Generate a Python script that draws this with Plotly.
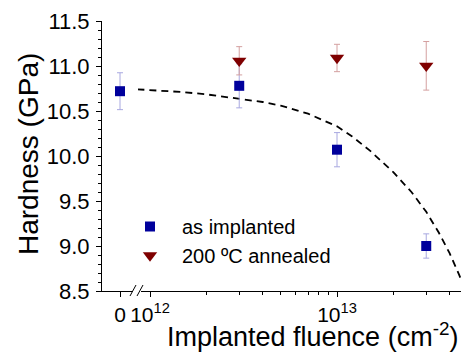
import plotly.graph_objects as go

# ---- data ----
FLUENCE = [3e12, 1e13, 3e13]            # cm^-2 (log segment)
H_IMPL_ZERO = 10.72                      # as implanted, fluence 0
H_IMPL_ZERO_ERR = 0.205
H_IMPL = [10.78, 10.07, 9.00]
H_IMPL_ERR = [0.245, 0.19, 0.135]
H_ANN = [11.058, 11.089, 11.002]
H_ANN_ERR = [0.157, 0.152, 0.27]

CURVE_F = [5.5e11, 7.5e11, 1.0e12, 1.5e12, 2.0e12, 3.0e12, 4.0e12, 5.0e12, 7.0e12,
           1.0e13, 1.2e13, 1.5e13, 2.0e13, 2.5e13, 3.0e13, 3.5e13, 4.0e13, 4.5e13, 4.7e13]
CURVE_H = [10.765, 10.75, 10.735, 10.71, 10.685, 10.64, 10.60, 10.56, 10.47,
           10.33, 10.22, 10.06, 9.82, 9.60, 9.38, 9.15, 8.92, 8.68, 8.58]

X_TICKVALS = [1e12, 1e13]
X_TICKTEXT = ["10<sup>12</sup>", "10<sup>13</sup>"]
X_MINOR = [2e12, 3e12, 4e12, 5e12, 6e12, 7e12, 8e12, 9e12, 2e13, 3e13, 4e13]

BLUE = "#00009c"
RED = "#7f0000"
BLUE_ERR = "#a8a8e0"
RED_ERR = "#d4a0a0"
FONT = "Arial, Liberation Sans, sans-serif"

W, H = 461, 356
ML, MR, MT, MB = 102, 0, 21, 65
PW, PH = W - ML - MR, H - MT - MB

def px(xp):
    return (xp - ML) / PW

def py(yp):
    return (H - MB - yp) / PH

fig = go.Figure()

fig.add_trace(go.Scatter(
    x=CURVE_F, y=CURVE_H, mode="lines", xaxis="x", yaxis="y",
    line=dict(color="black", width=1.8, dash="7px,5px"), showlegend=False,
    hoverinfo="skip"))

fig.add_trace(go.Scatter(
    x=FLUENCE, y=H_IMPL, mode="markers", xaxis="x", yaxis="y",
    name="as implanted", legendgroup="a",
    marker=dict(symbol="square", size=10, color=BLUE),
    error_y=dict(type="data", array=H_IMPL_ERR, color=BLUE_ERR, thickness=1, width=3)))

fig.add_trace(go.Scatter(
    x=[0], y=[H_IMPL_ZERO], mode="markers", xaxis="x2", yaxis="y",
    legendgroup="a", showlegend=False,
    marker=dict(symbol="square", size=10, color=BLUE),
    error_y=dict(type="data", array=[H_IMPL_ZERO_ERR], color=BLUE_ERR, thickness=1, width=3)))

fig.add_trace(go.Scatter(
    x=FLUENCE, y=H_ANN, mode="markers", xaxis="x", yaxis="y",
    name="200 ºC annealed", legendgroup="b",
    marker=dict(symbol="triangle-down", size=12.5, color=RED),
    error_y=dict(type="data", array=H_ANN_ERR, color=RED_ERR, thickness=1, width=3)))

fig.update_layout(
    width=W, height=H,
    margin=dict(l=ML, r=MR, t=MT, b=MB),
    paper_bgcolor="white", plot_bgcolor="white",
    font=dict(family=FONT, color="black", size=20),
    xaxis=dict(
        type="log", domain=[0, 1],
        range=[11.7433, 13.663],
        showline=True, linecolor="black", linewidth=1,
        ticks="outside", ticklen=5, tickwidth=1, tickcolor="black",
        tickvals=X_TICKVALS, ticktext=X_TICKTEXT,
        tickfont=dict(size=21),
        minor=dict(tickmode="array", tickvals=X_MINOR, ticks="outside",
                   ticklen=3, tickcolor="black", tickwidth=1),
        showgrid=False, zeroline=False, anchor="y"),
    xaxis2=dict(
        domain=[0, 0.1003], range=[-1, 1],
        showline=False, ticks="outside", ticklen=5, tickwidth=1, tickcolor="black",
        tickvals=[0], ticktext=["0"], tickfont=dict(size=21),
        showgrid=False, zeroline=False, anchor="y"),
    yaxis=dict(
        range=[8.5, 11.5], dtick=0.5, tick0=8.5, tickformat=".1f",
        showline=True, linecolor="black", linewidth=1,
        ticks="outside", ticklen=5, tickwidth=1, tickcolor="black",
        tickfont=dict(size=22), ticklabelstandoff=2,
        minor=dict(dtick=0.1, ticks="outside", ticklen=3, tickcolor="black", tickwidth=1),
        showgrid=False, zeroline=False, anchor="x"),
    legend=dict(
        x=px(118), y=py(207), xanchor="left", yanchor="top",
        bgcolor="rgba(0,0,0,0)", font=dict(size=20, family=FONT),
        traceorder="grouped", tracegroupgap=0, itemwidth=54),
    showlegend=True,
    annotations=[
        dict(text="Hardness (GPa)", xref="paper", yref="paper",
             x=px(28), y=py(154), textangle=-90, showarrow=False,
             xanchor="center", yanchor="middle", font=dict(size=28)),
        dict(text="Implanted fluence (cm<sup>-2</sup>)", xref="paper", yref="paper",
             x=px(312), y=py(335), showarrow=False,
             xanchor="center", yanchor="middle", font=dict(size=27)),
    ],
    shapes=[
        dict(type="rect", xref="paper", yref="paper",
             x0=px(133), x1=px(141), y0=py(293), y1=py(288),
             fillcolor="white", line=dict(width=0), layer="above"),
        dict(type="line", xref="paper", yref="paper",
             x0=px(130), y0=py(296), x1=px(136), y1=py(285),
             line=dict(color="black", width=1), layer="above"),
        dict(type="line", xref="paper", yref="paper",
             x0=px(137), y0=py(296), x1=px(143), y1=py(285),
             line=dict(color="black", width=1), layer="above"),
    ],
)

fig.write_html("out.html",
               config={"displayModeBar": False, "staticPlot": True},
               post_script="document.body.style.margin='0px';document.body.style.overflow='hidden';")
